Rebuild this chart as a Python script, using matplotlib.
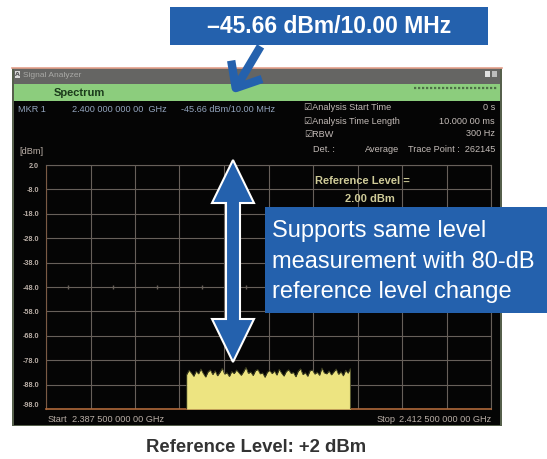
import matplotlib
matplotlib.use("Agg")
import matplotlib.pyplot as plt
import numpy as np
from matplotlib.patches import Rectangle, Polygon, FancyArrowPatch

# sweep settings
f_start = 2.3875      # GHz
f_stop = 2.4125       # GHz
ref_level = 2.0       # dBm
bottom_level = -98.0  # dBm
y_ticks = [2.0, -8.0, -18.0, -28.0, -38.0, -48.0, -58.0, -68.0, -78.0, -88.0, -98.0]

# occupied band of the averaged trace
band_lo = 2.3954
band_hi = 2.4046
band_levels = [-83.9, -82.1, -83.2, -84.6, -82.5, -83.6, -81.6, -83.4, -84.9, -82.8,
               -82.0, -83.9, -82.3, -84.4, -83.0, -81.3, -83.7, -83.1, -84.7, -82.6,
               -83.5, -82.0, -83.1, -84.2, -82.7, -80.9, -83.4, -82.8, -84.3, -82.3,
               -81.8, -83.6, -83.2, -85.0, -82.9, -82.2, -83.5, -82.4, -84.1, -81.7,
               -83.3, -84.5, -82.6, -81.9, -83.4, -83.0, -84.8, -82.5, -81.5, -83.9,
               -83.1, -84.6, -82.3, -82.0, -83.7, -82.9, -84.2, -81.2, -83.2, -83.6,
               -82.4, -84.0, -82.8, -81.6, -83.8, -82.7, -84.4, -82.1, -83.3, -81.4]

header_left = ["MKR 1", "2.400 000 000 00  GHz", "-45.66 dBm/10.00 MHz"]
settings = [("\u2611Analysis Start Time", "0 s"),
            ("\u2611Analysis Time Length", "10.000 00 ms"),
            ("\u2611RBW", "300 Hz")]

BLUE = "#2461AD"
SCREEN_TXT = "#b9aea6"
GRID = "#67605a"
FONTS = ["Liberation Sans", "DejaVu Sans"]

fig = plt.figure(figsize=(5.47, 4.59), dpi=100)
fig.patch.set_facecolor("white")

# --- instrument window (pixel coordinates) ---
bg = fig.add_axes([0, 0, 1, 1])
bg.set_xlim(0, 547); bg.set_ylim(459, 0); bg.axis("off")

bg.add_patch(Rectangle((12, 67.5), 490, 358, facecolor="#56604c", edgecolor="none"))
bg.add_patch(Rectangle((14, 69), 486, 15, facecolor="#656563", edgecolor="none"))
bg.plot([12, 502], [67.5, 67.5], color="#e4a08c", lw=1.2)
bg.add_patch(Rectangle((14.5, 70.5), 5.5, 7, facecolor="#d8d8d8", edgecolor="none"))
bg.text(15.2, 76.5, "A", fontsize=4.5, color="#505050", weight="bold")
bg.text(23, 75.5, "Signal Analyzer", fontsize=6, color="#a9a9a6", va="center",
        family=FONTS)
bg.add_patch(Rectangle((485, 70.5), 5, 6.5, facecolor="#e0e0e0", edgecolor="none"))
bg.add_patch(Rectangle((492, 70.5), 5, 6.5, facecolor="#bdbdbd", edgecolor="none"))

bg.add_patch(Rectangle((14, 84), 486, 16.5, facecolor="#8ccd7d", edgecolor="none"))
bg.text(54, 92.5, "Spectrum", fontsize=8, weight="bold", color="#1b3a1b",
        va="center", family=FONTS)
bg.plot([414, 497], [88, 88], color="#4f6e48", lw=1.6, ls=(0, (1, 0.8)))

bg.add_patch(Rectangle((14, 100.5), 486, 324, facecolor="#050505", edgecolor="none"))

# header readouts
txt = dict(fontsize=6.6, va="center", family=FONTS)
bg.text(18, 109, header_left[0], color="#93a4bd", **txt)
bg.text(72, 109, header_left[1], color="#93a4bd", **txt)
bg.text(181, 109, header_left[2], color="#93a4bd", **txt)
for i, (name, val) in enumerate(settings):
    y = 108 + 13 * i
    bg.text(304, y, name, color="#c4bcb8", **txt)
    bg.text(495, y, val, color="#c4bcb8", ha="right", **txt)
bg.text(313, 149, "Det. :", color="#c4bcb8", **txt)
bg.text(365, 149, "Average", color="#c4bcb8", **txt)
bg.text(495, 149, "Trace Point :  262145", color="#c4bcb8", ha="right", **txt)
bg.text(19, 152, "[dBm]", color=SCREEN_TXT, **txt)
bg.text(48, 419, "Start", color=SCREEN_TXT, **txt)
bg.text(72, 419, "2.387 500 000 00 GHz", color=SCREEN_TXT, **txt)
bg.text(377, 419, "Stop", color=SCREEN_TXT, **txt)
bg.text(491, 419, "2.412 500 000 00 GHz", color=SCREEN_TXT, ha="right", **txt)

# --- spectrum graticule ---
ax = fig.add_axes([46 / 547, 1 - 409 / 459, 445 / 547, 244 / 459])
ax.set_facecolor("#050505")
ax.set_xlim(f_start, f_stop)
ax.set_ylim(bottom_level, ref_level)
ax.set_xticks(np.linspace(f_start, f_stop, 11))
ax.set_yticks(y_ticks)
ax.set_yticklabels([f"{v:.1f}" for v in y_ticks])
ax.tick_params(axis="x", length=0, labelbottom=False)
ax.tick_params(axis="y", length=0, pad=5, labelsize=5.2, labelcolor=SCREEN_TXT)
for lab in ax.get_yticklabels():
    lab.set_family(FONTS)
    lab.set_weight("bold")
ax.get_yticklabels()[-1].set_verticalalignment("bottom")
ax.grid(True, color=GRID, lw=0.8)
for s in ("top", "right"):
    ax.spines[s].set_color(GRID)
ax.spines["left"].set_color("#7a5a44")
ax.spines["bottom"].set_color("#b0693a")
ax.spines["bottom"].set_linewidth(1.2)

# centre-line minor ticks
xt = np.linspace(f_start, f_stop, 11)
mid = (xt[:-1] + xt[1:]) / 2
ax.plot(mid, np.full(mid.shape, -48.0), ls="none", marker="|", ms=3, color=GRID)

band_f = np.linspace(band_lo, band_hi, len(band_levels))
trace_f = np.concatenate([[band_lo], band_f, [band_hi]])
trace_l = np.concatenate([[bottom_level], band_levels, [bottom_level]])
ax.fill_between(trace_f, bottom_level, trace_l, color="#ede481", lw=0, zorder=3)
ax.plot(trace_f, trace_l, color="#3e4020", lw=0.6, zorder=4)

ax.text(0.71, 0.935, "Reference Level =", transform=ax.transAxes, ha="center",
        va="center", fontsize=8, weight="bold", color="#cfcb98", family=FONTS)
ax.text(0.728, 0.862, f"{ref_level:.2f} dBm", transform=ax.transAxes, ha="center",
        va="center", fontsize=8, weight="bold", color="#cfcb98", family=FONTS)

# --- callouts ---
ov = fig.add_axes([0, 0, 1, 1], zorder=10)
ov.set_xlim(0, 547); ov.set_ylim(459, 0); ov.axis("off")
ov.patch.set_alpha(0)

ov.add_patch(Rectangle((170, 7), 318, 38, facecolor=BLUE, edgecolor="none"))
ov.text(329, 26.5, "\u201345.66 dBm/10.00 MHz", ha="center", va="center", fontsize=16.5,
        weight="bold", color="white", family=FONTS)
ov.add_patch(FancyArrowPatch((262, 44), (231, 96), arrowstyle="->,head_length=0.45,head_width=0.38",
                             mutation_scale=34, lw=6, color=BLUE, capstyle="butt"))

cx = 233
ov.add_patch(Polygon([(cx, 160), (cx + 21, 203), (cx + 7, 203), (cx + 7, 319), (cx + 21, 319),
                      (cx, 362), (cx - 21, 319), (cx - 7, 319), (cx - 7, 203), (cx - 21, 203)],
                     closed=True, facecolor=BLUE, edgecolor="white", lw=1.5, joinstyle="miter"))

ov.add_patch(Rectangle((265, 207), 282, 106, facecolor=BLUE, edgecolor="none"))
for i, line in enumerate(["Supports same level", "measurement with 80-dB",
                          "reference level change"]):
    ov.text(272, 231 + 30.5 * i, line, ha="left", va="center", fontsize=17,
            color="white", family=FONTS)

ov.text(256, 447, "Reference Level: +2 dBm", ha="center", va="center", fontsize=13.3,
        weight="bold", color="#333333", family=FONTS)

fig.savefig("out.png", dpi=100, facecolor="white")
